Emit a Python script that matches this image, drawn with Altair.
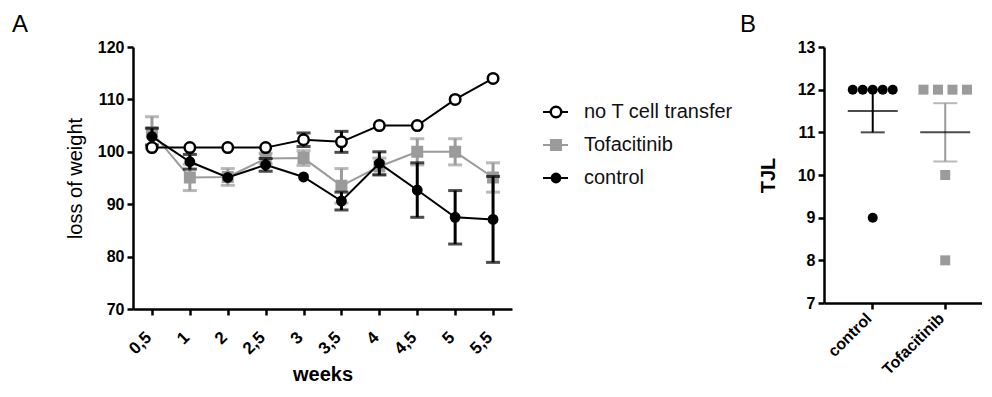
import altair as alt
import numpy as np
import pandas as pd

GREY = "#9b9b9b"

# ---------------- Panel A data ----------------
weeks = ["0,5", "1", "2", "2,5", "3", "3,5", "4", "4,5", "5", "5,5"]
series_names = ["no T cell transfer", "Tofacitinib", "control"]

noT_mean = [100.8, 100.8, 100.8, 100.8, 102.3, 101.9, 105.0, 105.0, 110.0, 114.0]
noT_sem = [0, 0, 0, 0, 1.3, 2.0, 0, 0, 0, 0]
tofa_mean = [103.7, 95.1, 95.2, 98.7, 98.8, 93.5, 97.2, 100.0, 100.0, 95.1]
tofa_sem = [3.0, 2.5, 1.6, 1.0, 1.4, 3.3, 1.6, 2.5, 2.5, 2.8]
ctrl_mean = [102.9, 98.1, 95.1, 97.5, 95.2, 90.6, 97.8, 92.7, 87.5, 87.1]
ctrl_sem = [1.6, 1.4, 0, 1.2, 0, 1.7, 2.2, 5.2, 5.1, 8.2]

# ---------------- Panel B data ----------------
groups = ["control", "Tofacitinib"]
ctrl_tjl = [12, 12, 12, 12, 12, 9]
tofa_tjl = [12, 12, 12, 12, 10, 8]

rows = []
for name, means, sems in [("no T cell transfer", noT_mean, noT_sem),
                          ("Tofacitinib", tofa_mean, tofa_sem),
                          ("control", ctrl_mean, ctrl_sem)]:
    for w, m, s in zip(weeks, means, sems):
        rows.append(dict(series=name, week=w, mean=m, lo=m - s, hi=m + s, sem=s))
dfA = pd.DataFrame(rows)
dfLeg = pd.DataFrame({"series": series_names})

color_scale = alt.Scale(domain=series_names, range=["black", GREY, "black"])
shape_scale = alt.Scale(domain=series_names, range=["circle", "square", "circle"])
fill_scale = alt.Scale(domain=series_names, range=["white", GREY, "black"])
size_scale = alt.Scale(domain=series_names, range=[110, 70, 60])

xA = alt.X("week:O", sort=weeks,
           scale=alt.Scale(domain=weeks, type="point", padding=0.5),
           axis=alt.Axis(title="weeks", labelAngle=-45, labelAlign="right",
                         labelBaseline="alphabetic", titleFontSize=20,
                         titleFontWeight="bold", titlePadding=8, labelPadding=23,
                         labelFontSize=17))


def yA(field):
    return alt.Y(field, scale=alt.Scale(domain=[70, 120]),
                 axis=alt.Axis(title="loss of weight", values=[70, 80, 90, 100, 110, 120],
                               titleFontSize=20, titleFontWeight="normal",
                               titlePadding=12, labelPadding=3, labelFontSize=16))


color_enc = alt.Color("series:N", scale=color_scale, legend=None)

layers = []
for s in ["Tofacitinib", "control", "no T cell transfer"]:
    base = alt.Chart(dfA).transform_filter(alt.datum.series == s)
    line = base.mark_line(strokeWidth=2).encode(x=xA, y=yA("mean:Q"), color=color_enc)
    errb = base.transform_filter(alt.datum.sem > 0)
    rule = errb.mark_rule(strokeWidth=3).encode(x=xA, y=yA("lo:Q"), y2="hi:Q", color=color_enc)
    cap_lo = errb.mark_tick(size=14, thickness=3).encode(x=xA, y=yA("lo:Q"), color=color_enc)
    cap_hi = errb.mark_tick(size=14, thickness=3).encode(x=xA, y=yA("hi:Q"), color=color_enc)
    pts = base.mark_point(opacity=1, fillOpacity=1, strokeWidth=2.5).encode(
        x=xA, y=yA("mean:Q"), color=color_enc,
        shape=alt.Shape("series:N", scale=shape_scale, legend=None),
        fill=alt.Fill("series:N", scale=fill_scale, legend=None),
        size=alt.Size("series:N", scale=size_scale, legend=None))
    layers += [line, rule, cap_lo, cap_hi, pts]

core = alt.layer(*layers)

leg_y = alt.Y("series:N", sort=series_names,
              scale=alt.Scale(domain=series_names, type="point", range=[65, 131], padding=0),
              axis=None)
leg_base = alt.Chart(dfLeg)
leg_rule = leg_base.mark_rule(strokeWidth=2).encode(
    x=alt.value(410), x2=alt.value(435), y=leg_y, color=color_enc)
leg_pts = leg_base.mark_point(opacity=1, fillOpacity=1, strokeWidth=2.5).encode(
    x=alt.value(423), y=leg_y, color=color_enc,
    shape=alt.Shape("series:N", scale=shape_scale, legend=None),
    fill=alt.Fill("series:N", scale=fill_scale, legend=None),
    size=alt.Size("series:N", scale=size_scale, legend=None))
leg_txt = leg_base.mark_text(align="left", baseline="middle", fontSize=20,
                             font="Liberation Sans", color="#111111").encode(
    x=alt.value(451), y=leg_y, text="series:N")
legend = alt.layer(leg_rule, leg_pts, leg_txt)

panelA = alt.layer(core, legend).resolve_scale(y="independent").properties(
    width=379, height=262,
    title=alt.TitleParams("A", anchor="start", frame="group", dx=-121, fontSize=24,
                          offset=2, fontWeight="normal", font="Liberation Sans",
                          color="black"))

# ---------------- Panel B ----------------
brows = []
stat_rows = []
for g, vals, spacing in [("control", ctrl_tjl, 10.0), ("Tofacitinib", tofa_tjl, 14.5)]:
    arr = np.array(vals, dtype=float)
    m = arr.mean()
    sem = arr.std(ddof=1) / np.sqrt(len(arr))
    stat_rows.append(dict(group=g, mean=m, lo=m - sem, hi=m + sem))
    for v in sorted(set(vals)):
        k = vals.count(v)
        for j in range(k):
            brows.append(dict(group=g, value=v, dx=(j - (k - 1) / 2) * spacing))
dfB = pd.DataFrame(brows)
dfS = pd.DataFrame(stat_rows)

xB = alt.X("group:N", sort=groups,
           scale=alt.Scale(domain=groups, paddingInner=0, paddingOuter=0.0897, align=0.96),
           axis=alt.Axis(title=None, labelAngle=-45, labelAlign="right",
                         labelBaseline="alphabetic", labelPadding=10, labelFontSize=16))


def yB(field):
    return alt.Y(field, scale=alt.Scale(domain=[7, 13]),
                 axis=alt.Axis(title="TJL", values=[7, 8, 9, 10, 11, 12, 13],
                               titleFontSize=20, titleFontWeight="bold",
                               titlePadding=19, labelPadding=3, labelFontSize=16))


offset = alt.XOffset("dx:Q", scale=alt.Scale(domain=[-36.25, 36.25]))
blayers = []
for g, col, shp in [("control", "black", "circle"), ("Tofacitinib", GREY, "square")]:
    sb = alt.Chart(dfS).transform_filter(alt.datum.group == g)
    blayers.append(sb.mark_rule(strokeWidth=2, color=col).encode(x=xB, y=yB("lo:Q"), y2="hi:Q"))
    blayers.append(sb.mark_tick(size=24, thickness=2, color=col).encode(x=xB, y=yB("lo:Q")))
    blayers.append(sb.mark_tick(size=24, thickness=2, color=col).encode(x=xB, y=yB("hi:Q")))
    blayers.append(sb.mark_tick(size=50, thickness=2, color="black").encode(x=xB, y=yB("mean:Q")))
    pb = alt.Chart(dfB).transform_filter(alt.datum.group == g)
    blayers.append(pb.mark_point(filled=True, opacity=1, shape=shp, size=100, color=col).encode(
        x=xB, xOffset=offset, y=yB("value:Q")))

panelB = alt.layer(*blayers).properties(
    width=158, height=256,
    title=alt.TitleParams("B", anchor="start", frame="group", dx=-84, fontSize=24,
                          offset=2, fontWeight="normal", font="Liberation Sans",
                          color="black"))

chart = alt.hconcat(panelA, panelB, spacing=7).properties(
    padding={"left": 4, "top": 5, "right": 0, "bottom": 0},
    background="white"
).configure_view(stroke=None).configure_axis(
    domainColor="black", domainWidth=2.5, tickColor="black", tickWidth=2.5, tickSize=6,
    labelFont="Liberation Sans", labelFontWeight="bold", labelColor="black",
    titleFont="Liberation Sans", titleColor="black", grid=False)

chart.save("out.html", embed_options={"renderer": "svg", "actions": False})
